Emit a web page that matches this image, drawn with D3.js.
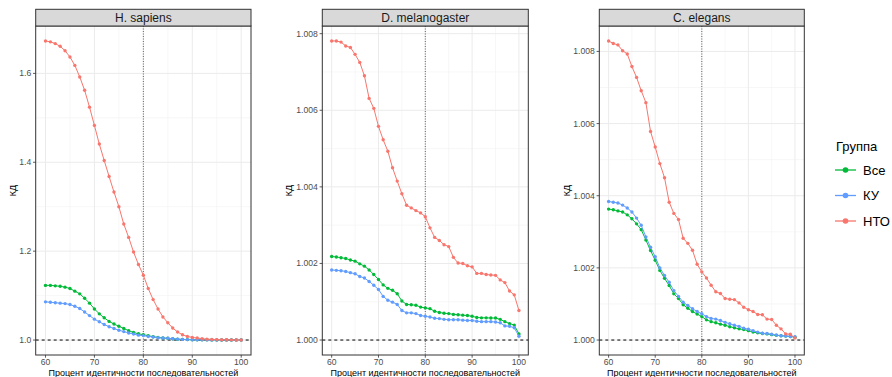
<!DOCTYPE html>
<meta charset="utf-8">
<title>КД vs процент идентичности</title>
<style>
body { margin: 0; background: #fff; }
text { font-family: "Liberation Sans", Arial, sans-serif; }
.grid-major { stroke: #EBEBEB; stroke-width: 1px; }
.grid-minor { stroke: #F2F2F2; stroke-width: 0.6px; }
.tick-lab { fill: #4D4D4D; font-size: 8.6px; }
.axis-title { fill: #000; font-size: 9px; }
.frame { fill: none; stroke: #333; stroke-width: 1px; }
.series { fill: none; stroke-width: 1px; }
</style>
<body>
<script src="https://d3js.org/d3.v7.min.js"></script>
<script>

var width = 892, height = 377;

// categories
var pct = [60,61,62,63,64,65,66,67,68,69,70,71,72,73,74,75,76,77,78,79,80,
           81,82,83,84,85,86,87,88,89,90,91,92,93,94,95,96,97,98,99,100];
var groups = ["Все", "КУ", "НТО"];
var groupColors = ["#00BA38", "#619CFF", "#F8766D"];
var species = ["H. sapiens", "D. melanogaster", "C. elegans"];

// H. sapiens
var hsAll = [1.123,1.123,1.122,1.121,1.119,1.116,1.110,1.104,1.094,1.083,1.070,1.059,1.050,1.042,1.036,1.031,1.026,1.021,1.017,1.014,1.012,
             1.010,1.0075,1.006,1.0045,1.004,1.003,1.002,1.0015,1.001,1.0008,1.0006,1.0005,1.0004,1.0003,1.0002,1.0002,1.0001,1.0001,1.0001,1.0000];
var hsKU  = [1.086,1.085,1.084,1.083,1.082,1.080,1.076,1.071,1.063,1.055,1.047,1.041,1.035,1.030,1.026,1.022,1.019,1.016,1.0135,1.011,1.010,
             1.008,1.007,1.005,1.0045,1.004,1.003,1.002,1.0015,1.001,1.0006,1.0005,1.0004,1.0003,1.0002,1.0002,1.0001,1.0001,1.0001,1.0000,1.0000];
var hsNTO = [1.673,1.671,1.667,1.661,1.651,1.637,1.618,1.592,1.562,1.524,1.483,1.441,1.404,1.368,1.333,1.300,1.261,1.231,1.198,1.170,1.146,
             1.116,1.091,1.070,1.052,1.039,1.027,1.018,1.012,1.008,1.006,1.0045,1.003,1.002,1.0015,1.001,1.0008,1.0006,1.0004,1.0002,1.0001];

// D. melanogaster
var dmAll = [1.00218,1.00217,1.00215,1.00213,1.00209,1.00206,1.00199,1.00193,1.00183,1.00171,1.00158,1.00144,1.00135,1.00130,1.00121,1.00102,1.00093,1.00092,1.00091,1.00086,1.00084,
             1.00082,1.00075,1.00072,1.00070,1.00069,1.00067,1.00066,1.00065,1.00064,1.00062,1.00059,1.00058,1.00058,1.000575,1.000575,1.00054,1.00048,1.00043,1.00039,1.00016];
var dmKU  = [1.00183,1.00182,1.00181,1.00179,1.00176,1.00173,1.00166,1.00162,1.00153,1.00143,1.00132,1.00114,1.00104,1.00099,1.00093,1.00077,1.00071,1.00071,1.00069,1.00064,1.00062,
             1.00060,1.00057,1.00056,1.00054,1.00053,1.00053,1.00053,1.00052,1.00051,1.00051,1.00049,1.00048,1.00048,1.00048,1.00047,1.00045,1.00037,1.00036,1.00032,1.00010];
var dmNTO = [1.00781,1.00781,1.00778,1.00768,1.00764,1.00746,1.00725,1.00690,1.00631,1.00605,1.00558,1.00523,1.00493,1.00450,1.00415,1.00382,1.00352,1.00345,1.00338,1.00332,1.00322,
             1.00293,1.00268,1.00260,1.00249,1.00244,1.00216,1.00201,1.00200,1.00194,1.00191,1.00174,1.00174,1.00171,1.00170,1.00169,1.00157,1.00150,1.00128,1.00118,1.00077];

// C. elegans
var ceAll = [1.00363,1.00361,1.00358,1.00355,1.00347,1.00336,1.00322,1.00306,1.00277,1.00248,1.00221,1.00193,1.00171,1.00151,1.00128,1.00115,1.00098,1.00088,1.00079,1.00072,1.00065,
             1.00056,1.00051,1.00048,1.00044,1.00041,1.00037,1.00034,1.00031,1.00029,1.00026,1.00022,1.00020,1.00018,1.00017,1.00015,1.00013,1.00012,1.00011,1.00010,1.00008];
var ceKU  = [1.00384,1.00382,1.00380,1.00374,1.00366,1.00355,1.00338,1.00318,1.00286,1.00257,1.00231,1.00200,1.00179,1.00160,1.00137,1.00121,1.00105,1.00096,1.00087,1.00079,1.00073,
             1.00065,1.00060,1.00058,1.00054,1.00049,1.00045,1.00041,1.00038,1.00033,1.00030,1.00026,1.00022,1.00019,1.00018,1.00016,1.00014,1.00012,1.00011,1.00010,1.00009];
var ceNTO = [1.00829,1.00822,1.00818,1.00802,1.00793,1.00758,1.00728,1.00691,1.00658,1.00578,1.00535,1.00489,1.00450,1.00382,1.00351,1.00334,1.00282,1.00268,1.00249,1.00210,1.00189,
             1.00172,1.00152,1.00134,1.00129,1.00115,1.00113,1.00112,1.00103,1.00091,1.00084,1.00079,1.00071,1.00070,1.00058,1.00057,1.00041,1.00031,1.00017,1.00016,1.00006];

var seriesBySpecies = [[hsAll, hsKU, hsNTO], [dmAll, dmKU, dmNTO], [ceAll, ceKU, ceNTO]];

var yTicks = [[1.0, 1.2, 1.4, 1.6], [1.000, 1.002, 1.004, 1.006, 1.008], [1.000, 1.002, 1.004, 1.006, 1.008]];
var yFormats = [".1f", ".3f", ".3f"];
var xTicks = [60, 70, 80, 90, 100];

// panel layout (pixels)
var panelBox = [
  {x0: 35.7, x1: 251, ylab: 13},
  {x0: 322.3, x1: 528.3, ylab: 289},
  {x0: 599.3, x1: 804.3, ylab: 566.7}
];
var stripTop = 9.3, panelTop = 26, panelBottom = 355;

var svg = d3.select("body").append("svg")
    .attr("width", width)
    .attr("height", height);

species.forEach(function(sp, p) {
  var box = panelBox[p];
  var data = seriesBySpecies[p];
  var g = svg.append("g");

  var x = d3.scaleLinear().domain([58, 102]).range([box.x0, box.x1]);
  var ymax = d3.max(data, function(s) { return d3.max(s); });
  var ymin = Math.min(1, d3.min(data, function(s) { return d3.min(s); }));
  var pad = (ymax - ymin) * 0.05;
  var y = d3.scaleLinear().domain([ymin - pad, ymax + pad]).range([panelBottom, panelTop]);

  // minor grid
  var yt = yTicks[p], step = yt[1] - yt[0];
  var yMinor = [];
  for (var i = -1; i < yt.length; i++) {
    var v = yt[0] + (i + 0.5) * step;
    if (v > y.domain()[0] && v < y.domain()[1]) yMinor.push(v);
  }
  g.selectAll(".ymin").data(yMinor).enter().append("line")
    .attr("class", "grid-minor")
    .attr("x1", box.x0).attr("x2", box.x1)
    .attr("y1", function(d) { return y(d); }).attr("y2", function(d) { return y(d); });
  g.selectAll(".xmin").data([65, 75, 85, 95]).enter().append("line")
    .attr("class", "grid-minor")
    .attr("y1", panelTop).attr("y2", panelBottom)
    .attr("x1", function(d) { return x(d); }).attr("x2", function(d) { return x(d); });

  // major grid
  g.selectAll(".ymaj").data(yt).enter().append("line")
    .attr("class", "grid-major")
    .attr("x1", box.x0).attr("x2", box.x1)
    .attr("y1", function(d) { return y(d); }).attr("y2", function(d) { return y(d); });
  g.selectAll(".xmaj").data(xTicks).enter().append("line")
    .attr("class", "grid-major")
    .attr("y1", panelTop).attr("y2", panelBottom)
    .attr("x1", function(d) { return x(d); }).attr("x2", function(d) { return x(d); });

  // reference lines
  g.append("line")
    .attr("x1", box.x0).attr("x2", box.x1)
    .attr("y1", y(1)).attr("y2", y(1))
    .attr("stroke", "#000").attr("stroke-width", 1)
    .attr("stroke-dasharray", "3,3");
  g.append("line")
    .attr("x1", x(80)).attr("x2", x(80))
    .attr("y1", panelTop).attr("y2", panelBottom)
    .attr("stroke", "#000").attr("stroke-width", 0.6)
    .attr("stroke-dasharray", "1,1.5");

  // series
  var line = d3.line()
    .x(function(d, i) { return x(pct[i]); })
    .y(function(d) { return y(d); });

  data.forEach(function(s, k) {
    g.append("path")
      .datum(s)
      .attr("class", "series")
      .attr("stroke", groupColors[k])
      .attr("d", line);
    g.selectAll(".pt" + k).data(s).enter().append("circle")
      .attr("cx", function(d, i) { return x(pct[i]); })
      .attr("cy", function(d) { return y(d); })
      .attr("r", 1.7)
      .attr("fill", groupColors[k]);
  });

  // frame and strip
  g.append("rect").attr("class", "frame")
    .attr("x", box.x0).attr("y", panelTop)
    .attr("width", box.x1 - box.x0).attr("height", panelBottom - panelTop);
  g.append("rect")
    .attr("x", box.x0).attr("y", stripTop)
    .attr("width", box.x1 - box.x0).attr("height", panelTop - stripTop)
    .attr("fill", "#D9D9D9").attr("stroke", "#333").attr("stroke-width", 1);
  g.append("text")
    .attr("x", (box.x0 + box.x1) / 2).attr("y", (stripTop + panelTop) / 2 + 4.2)
    .attr("text-anchor", "middle")
    .attr("font-size", "12px").attr("fill", "#1A1A1A")
    .text(sp);

  // y axis
  var fmt = d3.format(yFormats[p]);
  g.selectAll(".ytick").data(yt).enter().append("line")
    .attr("x1", box.x0 - 2.7).attr("x2", box.x0)
    .attr("y1", function(d) { return y(d); }).attr("y2", function(d) { return y(d); })
    .attr("stroke", "#333").attr("stroke-width", 0.8);
  g.selectAll(".ylab").data(yt).enter().append("text")
    .attr("class", "tick-lab")
    .attr("x", box.x0 - 4.5)
    .attr("y", function(d) { return y(d) + 3; })
    .attr("text-anchor", "end")
    .text(function(d) { return fmt(d); });

  // x axis
  g.selectAll(".xtick").data(xTicks).enter().append("line")
    .attr("y1", panelBottom).attr("y2", panelBottom + 2.7)
    .attr("x1", function(d) { return x(d); }).attr("x2", function(d) { return x(d); })
    .attr("stroke", "#333").attr("stroke-width", 0.8);
  g.selectAll(".xlab").data(xTicks).enter().append("text")
    .attr("class", "tick-lab")
    .attr("x", function(d) { return x(d); })
    .attr("y", 364.8)
    .attr("text-anchor", "middle")
    .text(function(d) { return d; });

  // titles
  g.append("text").attr("class", "axis-title")
    .attr("x", (box.x0 + box.x1) / 2).attr("y", 375.8)
    .attr("text-anchor", "middle")
    .text("Процент идентичности последовательностей");
  g.append("text").attr("class", "axis-title")
    .attr("transform", "translate(" + (box.ylab + 3.2) + "," + ((panelTop + panelBottom) / 2) + ") rotate(-90)")
    .attr("text-anchor", "middle")
    .attr("font-size", "10px")
    .text("КД");
});

// legend
var legend = svg.append("g");
legend.append("text")
  .attr("x", 836).attr("y", 151)
  .attr("font-size", "13px").attr("fill", "#000")
  .text("Группа");
var rowY = [170, 195.5, 221];
groups.forEach(function(gname, k) {
  legend.append("line")
    .attr("x1", 835).attr("x2", 856)
    .attr("y1", rowY[k]).attr("y2", rowY[k])
    .attr("stroke", groupColors[k]).attr("stroke-width", 1.3);
  legend.append("circle")
    .attr("cx", 845.5).attr("cy", rowY[k]).attr("r", 2.8)
    .attr("fill", groupColors[k]);
  legend.append("text")
    .attr("x", 863).attr("y", rowY[k] + 4.6)
    .attr("font-size", "13px").attr("fill", "#000")
    .text(gname);
});

</script>
</body>
</html>
